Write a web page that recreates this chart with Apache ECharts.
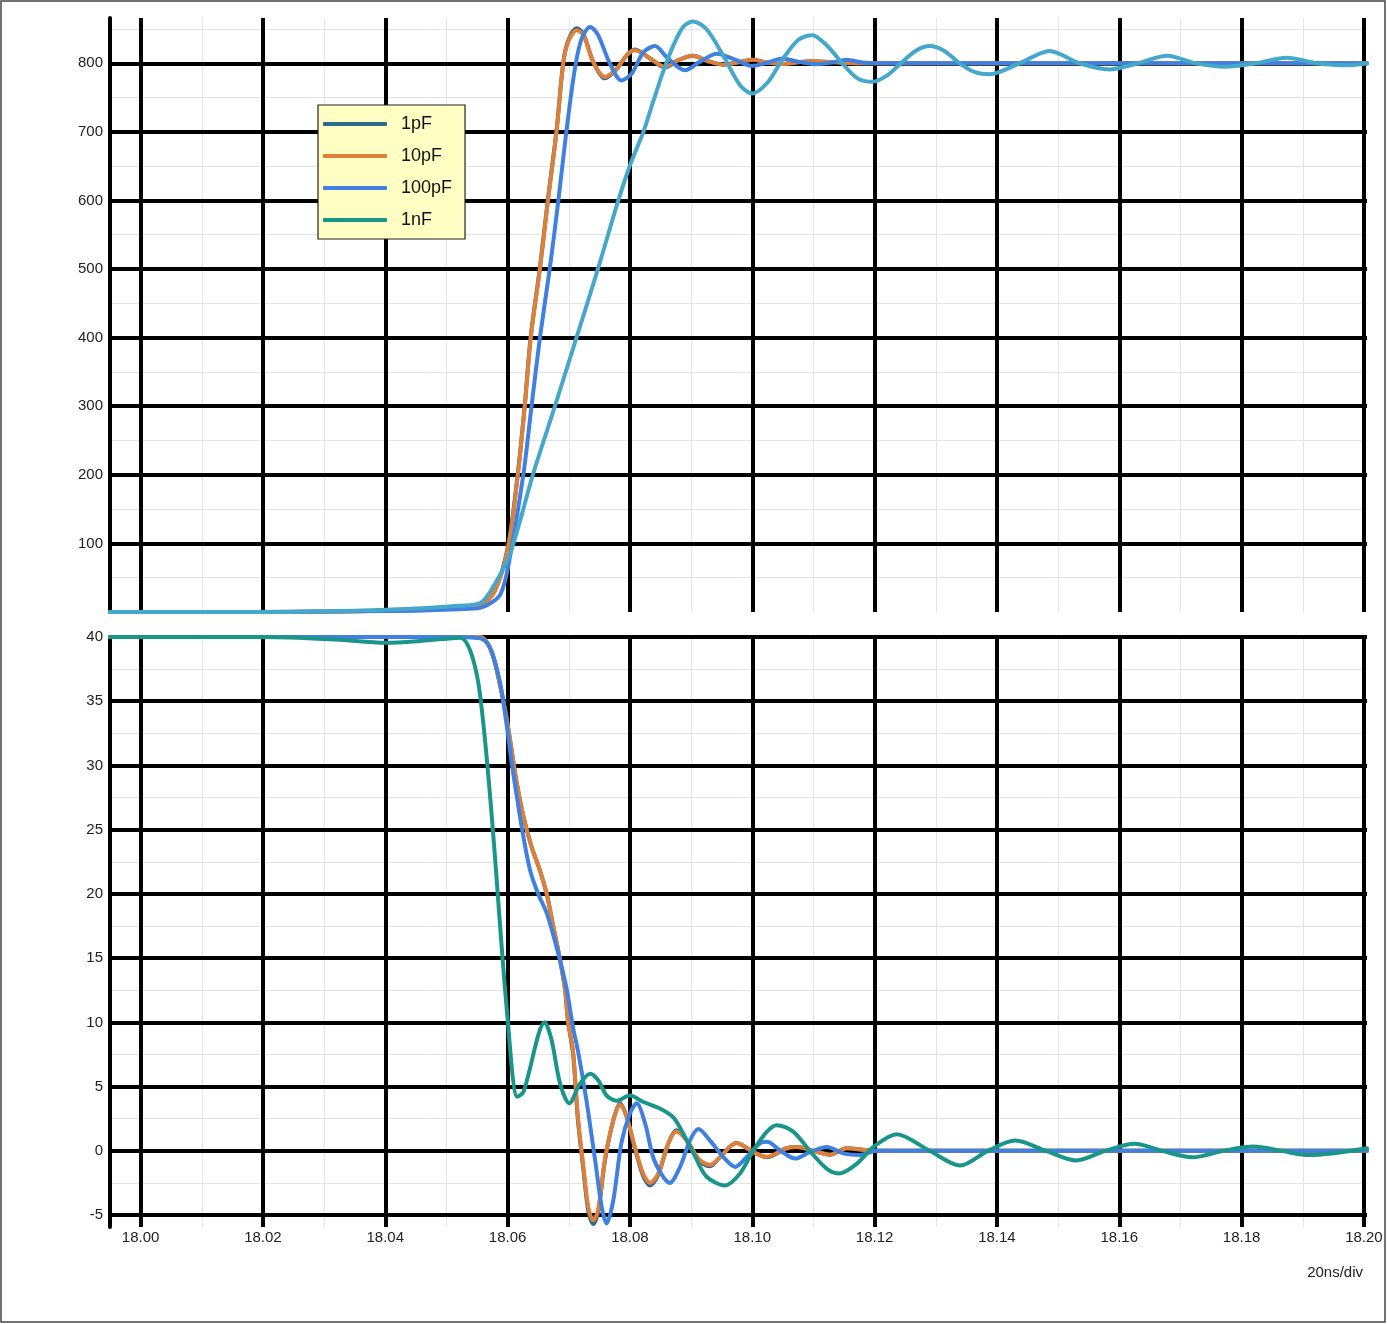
<!DOCTYPE html>
<html><head><meta charset="utf-8">
<script src="https://cdn.jsdelivr.net/npm/echarts@6/dist/echarts.min.js"></script>
<style>html,body{margin:0;padding:0;background:#fff}#c{width:1387px;height:1324px}</style>
</head><body><div id="c"></div><script>
// ---- names & ticks ----
const seriesNames = ['1pF', '10pF', '100pF', '1nF'];
const xMajorTicks = [18.00, 18.02, 18.04, 18.06, 18.08, 18.10, 18.12, 18.14, 18.16, 18.18, 18.20];
const xMinorTicks = [18.01, 18.03, 18.05, 18.07, 18.09, 18.11, 18.13, 18.15, 18.17, 18.19];
const topMajorTicks = [100, 200, 300, 400, 500, 600, 700, 800];
const topMinorTicks = [50, 150, 250, 350, 450, 550, 650, 750, 850];
const botMajorTicks = [-5, 0, 5, 10, 15, 20, 25, 30, 35, 40];
const botMinorTicks = [-2.5, 2.5, 7.5, 12.5, 17.5, 22.5, 27.5, 32.5, 37.5];
const xUnitNote = '20ns/div';

// ---- top panel (0..860) ----
const top1pF = [[17.995,0],[18.02,0],[18.035,1],[18.045,3],[18.052,6],[18.0555,9],[18.0579,31],[18.0601,97],[18.0617,204],[18.0628,301],[18.0638,403],[18.0653,503],[18.0666,602],[18.0680,702],[18.0691,801],[18.0699,833],[18.0713,851],[18.0724,843],[18.0740,802],[18.0759,778],[18.0778,791],[18.0795,812],[18.0808,820],[18.0833,807],[18.0857,794],[18.0880,805],[18.0903,811],[18.0928,803],[18.0952,798],[18.0975,801],[18.1000,805],[18.1025,801],[18.1049,799],[18.1072,801],[18.1095,803],[18.1154,800.5],[18.125,800],[18.2005,800]];
const top10pF = [[17.995,0],[18.02,0],[18.035,1],[18.045,3],[18.052,6],[18.0555,9],[18.0579,30],[18.0601,95],[18.0617,202],[18.0628,299],[18.0638,401],[18.0653,501],[18.0666,600],[18.0680,700],[18.0691,800],[18.0699,831],[18.0713,848],[18.0724,841],[18.0740,802],[18.0759,780],[18.0778,792],[18.0795,812],[18.0808,819],[18.0833,807],[18.0857,795],[18.0880,805],[18.0903,811],[18.0928,803],[18.0952,798],[18.0975,801],[18.1000,805],[18.1025,801],[18.1049,799],[18.1072,801],[18.1095,803],[18.1154,800.5],[18.125,800],[18.2005,800]];
const top100pF = [[17.995,0],[18.02,0],[18.035,1],[18.045,2],[18.052,4],[18.0555,6],[18.0576,15],[18.0589,27],[18.0601,66],[18.0626,202],[18.0639,299],[18.0653,401],[18.0669,501],[18.0683,600],[18.0696,700],[18.0710,792],[18.0721,836],[18.0735,853],[18.0748,841],[18.0767,800],[18.0786,775],[18.0803,785],[18.0822,816],[18.0841,825],[18.0860,809],[18.0890,790],[18.0914,802],[18.0942,814],[18.0970,806],[18.1000,796],[18.1025,801],[18.1049,807],[18.1077,802],[18.1105,798.5],[18.1130,801],[18.1154,805],[18.1180,801],[18.121,800],[18.2005,800]];
const top1nF = [[17.995,0],[18.02,0],[18.035,2],[18.045,5],[18.052,9],[18.0555,13],[18.0576,36],[18.0604,85],[18.0642,202],[18.0677,299],[18.0713,401],[18.0748,501],[18.0781,600],[18.0800,651],[18.0822,700],[18.0838,744],[18.0854,787],[18.0871,826],[18.0887,853],[18.0903,861],[18.0925,850],[18.0952,812],[18.0980,768],[18.1000,756],[18.1025,772],[18.1049,805],[18.1075,834],[18.1098,841],[18.1122,826],[18.1147,800],[18.1172,778],[18.1196,773],[18.1220,782],[18.1243,800],[18.1267,818],[18.1290,825],[18.1314,818],[18.1339,800],[18.1364,787],[18.1388,784],[18.1437,800],[18.1486,818],[18.1535,800],[18.1584,791],[18.1631,800],[18.1678,811],[18.1725,800],[18.1773,795],[18.1823,800],[18.1874,808],[18.1923,800],[18.1972,797],[18.2005,800]];

// ---- bottom panel (-5..40) ----
const bot1pF = [[17.995,40],[18.05,40],[18.0555,40],[18.0566,39.6],[18.0577,38.4],[18.0587,36.4],[18.0596,34.3],[18.0604,32.0],[18.0615,28.6],[18.0626,26.0],[18.0639,23.7],[18.0653,21.8],[18.0664,20.0],[18.0675,17.4],[18.0686,14.8],[18.0694,12.5],[18.0699,10.0],[18.0707,7.6],[18.0715,2.4],[18.0724,-1.5],[18.0732,-4.7],[18.0740,-5.7],[18.0748,-4.8],[18.0759,-0.8],[18.0773,2.4],[18.0784,3.7],[18.0795,2.6],[18.0808,0.2],[18.0822,-2.0],[18.0833,-2.7],[18.0846,-1.9],[18.0863,0.6],[18.0876,1.6],[18.0893,0.8],[18.0914,-0.8],[18.0931,-1.2],[18.0947,-0.5],[18.0974,0.6],[18.1002,-0.1],[18.1024,-0.5],[18.1056,0.2],[18.1073,0.3],[18.1100,0],[18.1127,-0.3],[18.1154,0.2],[18.1200,0],[18.2005,0]];
const bot10pF = [[17.995,40],[18.05,40],[18.0555,40],[18.0566,39.6],[18.0577,38.4],[18.0587,36.4],[18.0596,34.3],[18.0604,32.0],[18.0615,28.6],[18.0626,26.0],[18.0639,23.7],[18.0653,21.8],[18.0664,20.0],[18.0675,17.4],[18.0686,14.8],[18.0694,12.5],[18.0699,10.0],[18.0707,7.8],[18.0715,2.6],[18.0724,-1.25],[18.0732,-4.4],[18.0740,-5.4],[18.0748,-4.6],[18.0759,-0.7],[18.0773,2.4],[18.0784,3.6],[18.0795,2.6],[18.0808,0.3],[18.0822,-1.8],[18.0833,-2.5],[18.0846,-1.8],[18.0863,0.6],[18.0876,1.5],[18.0893,0.8],[18.0914,-0.7],[18.0931,-1.1],[18.0947,-0.5],[18.0974,0.6],[18.1002,-0.1],[18.1024,-0.47],[18.1056,0.2],[18.1073,0.3],[18.1100,0],[18.1127,-0.3],[18.1154,0.2],[18.1200,0],[18.2005,0]];
const bot100pF = [[17.995,40],[18.05,40],[18.0555,39.9],[18.0571,39.2],[18.0587,36.6],[18.0598,33.3],[18.0607,30.1],[18.0617,27.0],[18.0626,24.4],[18.0637,21.8],[18.0650,20.0],[18.0664,18.5],[18.0677,16.4],[18.0686,14.8],[18.0697,12.5],[18.0707,9.6],[18.0715,7.8],[18.0729,3.9],[18.0743,-0.7],[18.0754,-4.4],[18.0762,-5.65],[18.0773,-3.8],[18.0786,0.6],[18.0800,2.9],[18.0811,3.7],[18.0825,2.1],[18.0838,-0.5],[18.0854,-2.0],[18.0865,-2.5],[18.0882,-1.25],[18.0898,0.8],[18.0912,1.7],[18.0931,0.8],[18.0953,-0.5],[18.0972,-1.25],[18.0991,-0.47],[18.1013,0.6],[18.1024,0.7],[18.1045,0.05],[18.1070,-0.6],[18.1094,-0.1],[18.1122,0.3],[18.1149,-0.2],[18.1176,-0.33],[18.1203,0],[18.2005,0]];
const bot1nF = [[17.995,40],[18.02,40],[18.032,39.8],[18.040,39.55],[18.046,39.7],[18.0522,39.95],[18.0555,35.5],[18.0600,10.3],[18.0616,4.2],[18.0626,4.6],[18.0661,10.0],[18.0672,8.6],[18.0686,5.2],[18.0701,3.7],[18.0718,5.2],[18.0735,6.0],[18.0748,5.5],[18.0762,4.3],[18.0778,3.9],[18.0800,4.3],[18.0822,3.8],[18.0849,3.3],[18.0871,2.6],[18.0887,1.35],[18.0904,-0.2],[18.0925,-2.0],[18.0955,-2.7],[18.0980,-1.76],[18.1002,0.05],[18.1024,1.5],[18.1040,2.0],[18.1067,1.5],[18.1094,0],[18.1122,-1.4],[18.1143,-1.76],[18.1171,-1.0],[18.1198,0.3],[18.1236,1.3],[18.1290,0],[18.1340,-1.15],[18.1385,0],[18.1430,0.8],[18.1480,0],[18.1530,-0.75],[18.1577,0],[18.1625,0.55],[18.1670,0],[18.1720,-0.5],[18.1770,0],[18.1820,0.33],[18.1865,0],[18.1910,-0.33],[18.2005,0.2]];

// ---- styling ----
const FONT = '"Liberation Sans", Arial, Helvetica, sans-serif';
const COLORS = {'1pF':'#2D6B8E', '10pF':'#DE7F3A', '100pF':'#3F80E0', '1nF':'#1A958A'};
const TOP_1NF_COLOR = '#45A8CB';
const X_MIN = 17.995, X_MAX = 18.2005;

function xAxisDef(grid, ticks, major, labels) {
  return {
    type: 'value', gridIndex: grid, min: X_MIN, max: X_MAX, z: major ? 1 : 0,
    position: 'bottom',
    axisLine: {show: false, onZero: false},
    axisTick: {show: false, customValues: ticks},
    axisLabel: labels ? {show: true, customValues: ticks, formatter: v => v.toFixed(2), margin: 3,
      fontSize: 15, color: '#222', fontFamily: FONT} : {show: false},
    splitLine: {show: true, lineStyle: major ? {color: '#000', width: 4} : {color: '#e4e4e4', width: 1}}
  };
}
function yAxisDef(grid, min, max, ticks, major) {
  return {
    type: 'value', gridIndex: grid, min: min, max: max, z: major ? 1 : 0,
    position: 'left',
    axisLine: {show: major, onZero: false, lineStyle: {color: '#000', width: 4}},
    axisTick: {show: false, customValues: ticks},
    axisLabel: major ? {show: true, customValues: ticks, margin: 7, fontSize: 15, color: '#222', fontFamily: FONT} : {show: false},
    splitLine: {show: true, lineStyle: major ? {color: '#000', width: 4} : {color: '#e4e4e4', width: 1}}
  };
}

function line(name, data, grid, color) {
  return {
    name: name, type: 'line', data: data, xAxisIndex: grid, yAxisIndex: grid,
    showSymbol: false, symbol: 'none', smooth: 0.3, z: 3,
    lineStyle: {color: color, width: 4, cap: 'round', join: 'round'},
    itemStyle: {color: color}, emphasis: {disabled: true}
  };
}

const option = {
  animation: false,
  backgroundColor: '#fff',
  grid: [
    {left: 110, right: 20, top: 18, height: 594},
    {left: 110, right: 20, top: 637, height: 590}
  ],
  xAxis: [
    xAxisDef(0, xMajorTicks, true, false),
    xAxisDef(1, xMajorTicks, true, true),
    xAxisDef(0, xMinorTicks, false, false),
    xAxisDef(1, xMinorTicks, false, false)
  ],
  yAxis: [
    yAxisDef(0, 0, 866, topMajorTicks, true),
    yAxisDef(1, -5.93, 40, botMajorTicks, true),
    yAxisDef(0, 0, 866, topMinorTicks, false),
    yAxisDef(1, -5.93, 40, botMinorTicks, false)
  ],
  legend: {
    data: seriesNames, orient: 'vertical', left: 318, top: 105,
    backgroundColor: '#FFFFC4', borderColor: '#222', borderWidth: 1.2, borderRadius: 0,
    padding: [10, 13, 10, 5], itemWidth: 64, itemHeight: 4, itemGap: 14,
    icon: 'roundRect',
    selectedMode: false,
    textStyle: {fontSize: 18, color: '#111', fontFamily: FONT, lineHeight: 18, padding: [0, 0, 0, 9]}
  },
  title: {
    text: xUnitNote, right: 24, top: 1265, padding: 0,
    textStyle: {fontSize: 15, fontWeight: 'normal', color: '#222', fontFamily: FONT}
  },
  graphic: [{
    type: 'rect', shape: {x: 1, y: 1, width: 1384, height: 1321}, silent: true,
    style: {fill: 'none', stroke: '#444', lineWidth: 1.5}
  }],
  series: [
    line('1pF', bot1pF, 1, COLORS['1pF']),
    line('10pF', bot10pF, 1, COLORS['10pF']),
    line('100pF', bot100pF, 1, COLORS['100pF']),
    line('1nF', bot1nF, 1, COLORS['1nF']),
    line('1pF', top1pF, 0, COLORS['1pF']),
    line('10pF', top10pF, 0, COLORS['10pF']),
    line('100pF', top100pF, 0, COLORS['100pF']),
    line('1nF', top1nF, 0, TOP_1NF_COLOR)
  ]
};

const chart = echarts.init(document.getElementById('c'), null, {renderer: 'canvas'});
chart.setOption(option);
</script></body></html>
